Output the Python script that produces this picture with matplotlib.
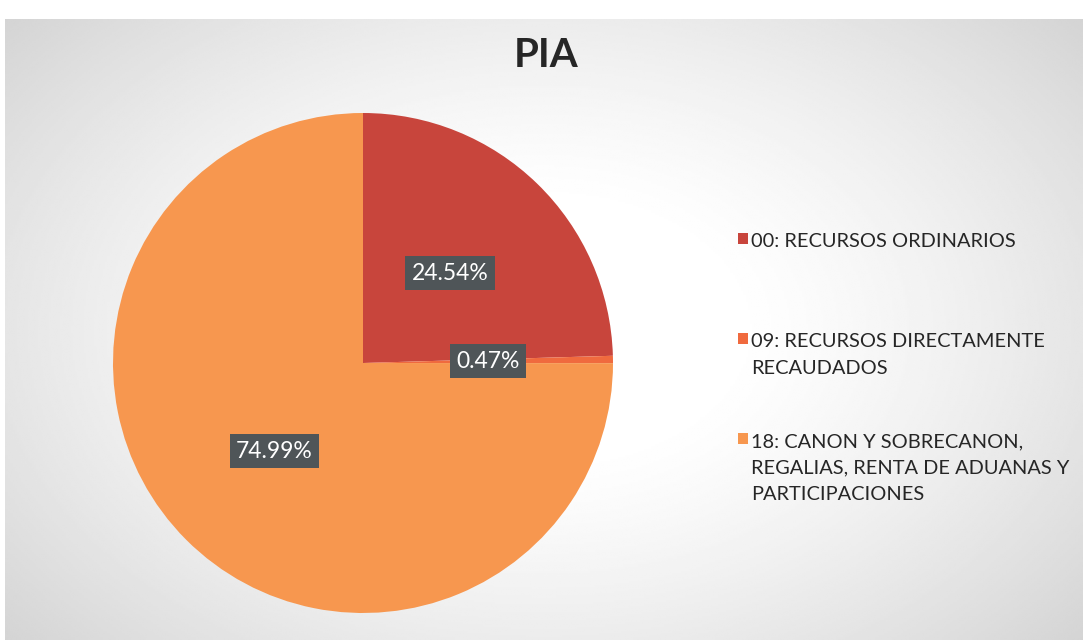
import numpy as np
import matplotlib.pyplot as plt

# data
categories = [
    "00: RECURSOS ORDINARIOS",
    "09: RECURSOS DIRECTAMENTE\nRECAUDADOS",
    "18: CANON Y SOBRECANON,\nREGALIAS, RENTA DE ADUANAS Y\nPARTICIPACIONES",
]
shares = [24.54, 0.47, 74.99]
colors = ["#C8453C", "#F06A3E", "#F7974F"]

plt.rcParams["font.family"] = ["Lato", "DejaVu Sans"]

fig = plt.figure(figsize=(10.88, 6.42), dpi=100)

# scanned-slide look: light grey frame fading to white in the middle
bg = fig.add_axes([0, 0, 1, 1])
yy, xx = np.mgrid[-1:1:300j, -1:1:500j]
rr = np.sqrt((xx / 0.95) ** 2 + (yy / 1.1) ** 2)
shade = np.clip(1.0 - 0.16 * np.clip(rr - 0.35, 0, None) ** 1.3, 0.82, 1.0)
bg.imshow(shade, cmap="gray", vmin=0, vmax=1, aspect="auto",
          extent=[0.005, 0.995, 0.003, 0.97], interpolation="bilinear")
bg.set_xlim(0, 1)
bg.set_ylim(0, 1)
bg.axis("off")

ax = fig.add_axes([113 / 1088, 29 / 642, 500 / 1088, 500 / 642])
wedges, texts, autotexts = ax.pie(
    shares,
    colors=colors,
    startangle=90,
    counterclock=False,
    autopct=lambda p: f"{p:.2f}%",
    pctdistance=0.5,
    wedgeprops=dict(linewidth=0),
)
for t in autotexts:
    t.set_color("white")
    t.set_fontsize(16.5)
    t.set_bbox(dict(boxstyle="square,pad=0.28", facecolor="#4F5558",
                    edgecolor="none"))
ax.set_xlim(-1, 1)
ax.set_ylim(-1, 1)
ax.set_aspect("equal")

fig.text(0.502, 0.914, "PIA", ha="center", va="center", fontsize=29,
         fontweight="bold", color="#262626")

# pad every label to three lines so the entries sit on an even grid
leg_labels = [c + "\n" * (2 - c.count("\n")) for c in categories]
leg = fig.legend(wedges, leg_labels, loc="upper left",
                 bbox_to_anchor=(738 / 1088, 1 - 233 / 642),
                 frameon=False, fontsize=14.4, labelspacing=1.5,
                 handlelength=0.5, handleheight=0.5, handletextpad=0.15,
                 borderpad=0, borderaxespad=0, alignment="left")
for txt in leg.get_texts():
    txt.set_color("#262626")
    txt.set_linespacing(1.68)
# put each colour square next to the first line of its label
for col in leg._legend_handle_box.get_children():
    for item in col.get_children():
        item.align = "top"

fig.savefig("out.png", dpi=100)
